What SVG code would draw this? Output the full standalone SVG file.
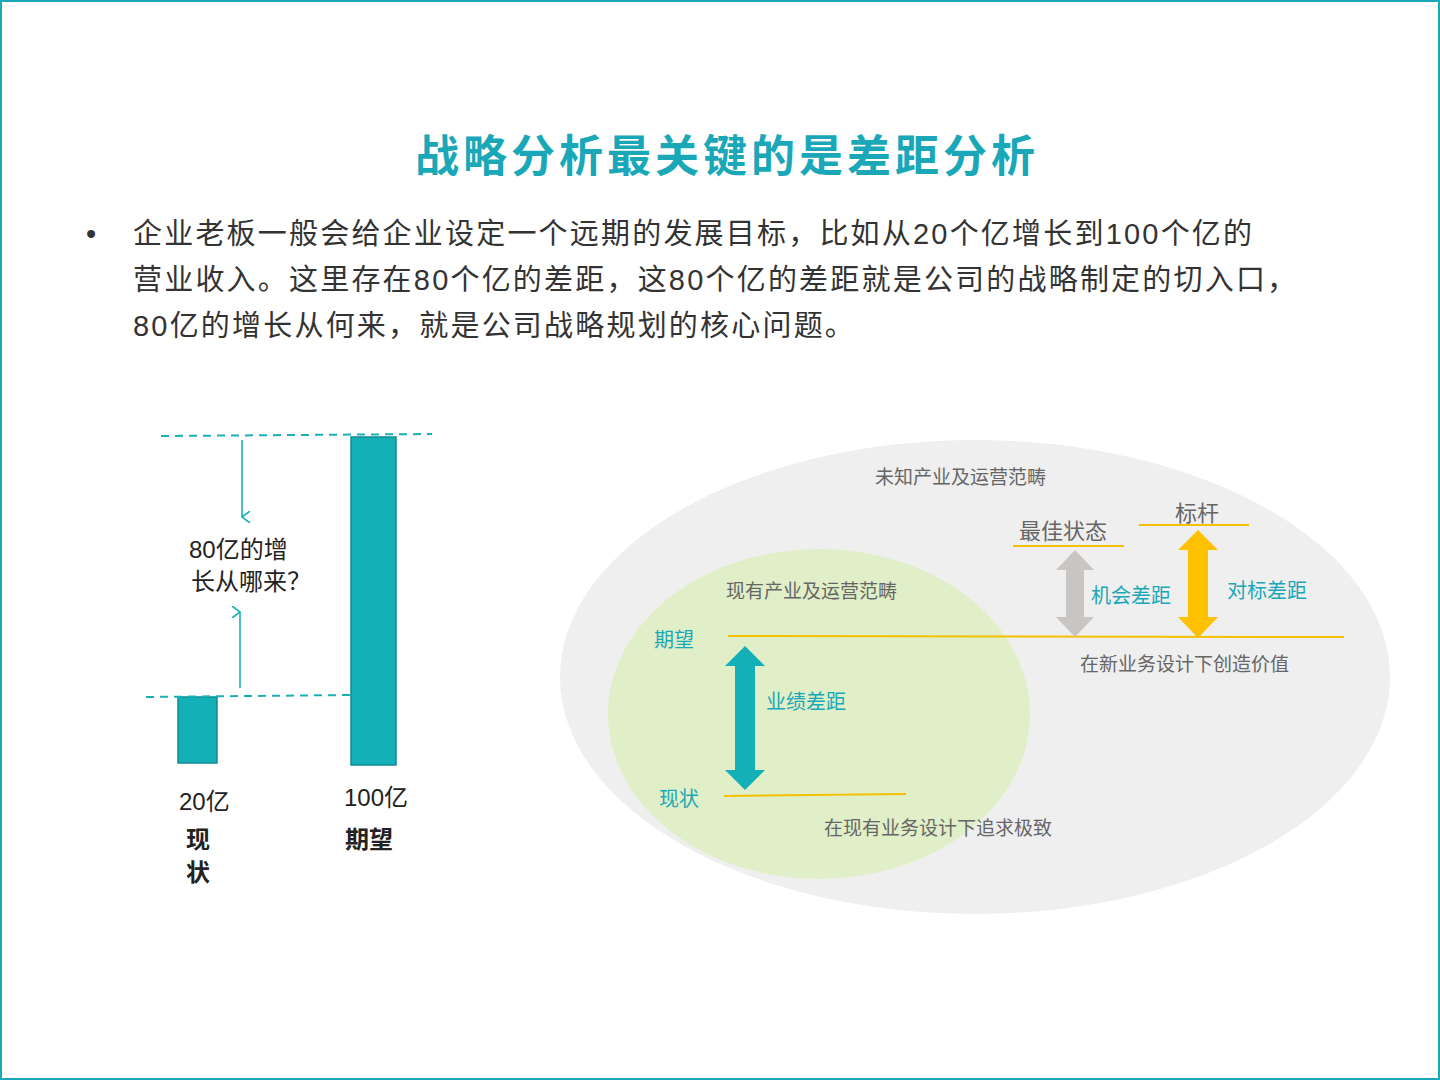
<svg xmlns="http://www.w3.org/2000/svg" width="1440" height="1080" viewBox="0 0 1440 1080">
<defs>
<style>
.t{font-family:"Liberation Sans","Noto Sans CJK SC",sans-serif}
.body{font-size:29px;fill:#333;letter-spacing:2.2px}
.g{font-size:19px;fill:#666}
.c{font-size:20px;fill:#1aa8b8}
.dash{stroke:#1ab0b8;stroke-width:2;stroke-dasharray:8 6;fill:none}
.yl{stroke:#f5c000;stroke-width:2;fill:none}
</style>
<marker id="ah" viewBox="0 0 12 12" refX="6" refY="11" markerWidth="12" markerHeight="12" orient="auto-start-reverse" markerUnits="userSpaceOnUse">
<path d="M0,3 L6,11 L12,3" fill="none" stroke="#1ab0b8" stroke-width="1.6"/>
</marker>
</defs>
<rect x="0" y="0" width="1440" height="1080" fill="#fff"/>
<rect x="1" y="1" width="1438" height="1078" fill="none" stroke="#1aa8b8" stroke-width="2"/>
<text class="t" x="727" y="172" text-anchor="middle" font-size="44" font-weight="bold" fill="#1aa8b8" letter-spacing="4">战略分析最关键的是差距分析</text>
<g class="t body">
<text x="86" y="244">•</text>
<text x="133" y="244">企业老板一般会给企业设定一个远期的发展目标，比如从20个亿增长到100个亿的</text>
<text x="133" y="290">营业收入。这里存在80个亿的差距，这80个亿的差距就是公司的战略制定的切入口，</text>
<text x="133" y="336">80亿的增长从何来，就是公司战略规划的核心问题。</text>
</g>
<g id="chart">
<rect x="178" y="697" width="39" height="66" fill="#13b0b8" stroke="#108c94" stroke-width="1.5"/>
<rect x="351" y="437" width="45" height="328" fill="#13b0b8" stroke="#108c94" stroke-width="1.5"/>
<line class="dash" x1="161" y1="436" x2="432" y2="434"/>
<line class="dash" x1="146" y1="697" x2="350" y2="695"/>
<line x1="242" y1="440" x2="242" y2="517" stroke="#1ab0b8" stroke-width="1.6" marker-end="url(#ah)"/>
<line x1="240" y1="688" x2="240" y2="612" stroke="#1ab0b8" stroke-width="1.6" marker-end="url(#ah)"/>
<text class="t" x="189" y="558" font-size="24" fill="#222">80亿的增</text>
<text class="t" x="191" y="590" font-size="24" fill="#222">长从哪来？</text>
<text class="t" x="179" y="810" font-size="24" fill="#222">20亿</text>
<text class="t" x="344" y="806" font-size="24" fill="#222">100亿</text>
<text class="t" x="186" y="848" font-size="24" font-weight="bold" fill="#222">现</text>
<text class="t" x="186" y="881" font-size="24" font-weight="bold" fill="#222">状</text>
<text class="t" x="345" y="848" font-size="24" font-weight="bold" fill="#222">期望</text>
</g>
<g id="outer"><ellipse cx="975" cy="677" rx="415" ry="237" fill="#efefef"/></g>
<g id="inner"><ellipse cx="819" cy="714" rx="211" ry="165" fill="#e0efc8"/></g>
<g id="connectors">
<line class="yl" x1="728" y1="636" x2="1344" y2="637"/>
<line class="yl" x1="724" y1="796" x2="906" y2="794"/>
<line class="yl" x1="1013" y1="546" x2="1124" y2="546"/>
<line class="yl" x1="1139" y1="525" x2="1249" y2="525"/>
<polygon points="745,646 765,666 755,666 755,770 765,770 745,790 725,770 735,770 735,666 725,666" fill="#13b0b8"/>
<polygon points="1075,550 1094,570 1084,570 1084,617 1094,617 1075,637 1056,617 1066,617 1066,570 1056,570" fill="#c9c5c2"/>
<polygon points="1198,530 1218,550 1208,550 1208,617 1218,617 1198,638 1178,617 1188,617 1188,550 1178,550" fill="#ffc000"/>
</g>
<g class="t">
<text class="g" x="875" y="484">未知产业及运营范畴</text>
<text x="1019" y="539" font-size="22" fill="#666">最佳状态</text>
<text x="1175" y="521" font-size="22" fill="#666">标杆</text>
<text class="c" x="1091" y="603">机会差距</text>
<text class="c" x="1227" y="598">对标差距</text>
<text class="g" x="726" y="598">现有产业及运营范畴</text>
<text class="c" x="654" y="647" font-size="22">期望</text>
<text class="g" x="1080" y="671">在新业务设计下创造价值</text>
<text class="c" x="766" y="709">业绩差距</text>
<text class="c" x="659" y="806" font-size="22">现状</text>
<text class="g" x="824" y="835">在现有业务设计下追求极致</text>
</g>
</svg>
